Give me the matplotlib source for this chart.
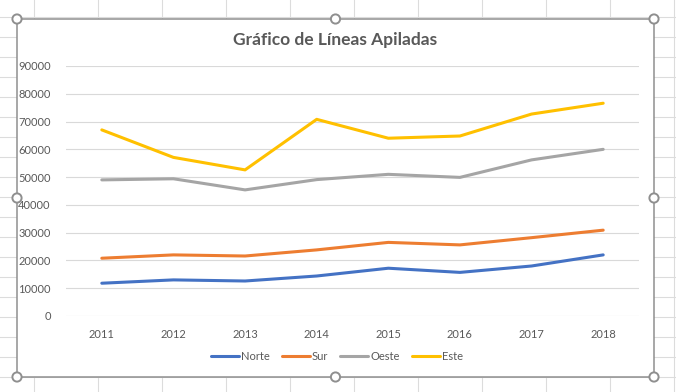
import matplotlib.pyplot as plt
import numpy as np
from matplotlib.patches import Rectangle, Circle

plt.rcParams['font.family'] = ['Lato', 'DejaVu Sans']

years = ['2011', '2012', '2013', '2014', '2015', '2016', '2017', '2018']
norte = [11800, 13000, 12600, 14400, 17200, 15700, 18000, 22000]
sur = [9000, 9000, 9000, 9400, 9300, 9900, 10200, 8900]
oeste = [28200, 27400, 23800, 25300, 24500, 24300, 28000, 29100]
este = [18000, 7700, 7200, 21700, 13000, 14900, 16500, 16600]
names = ['Norte', 'Sur', 'Oeste', 'Este']
colors = ['#4472C4', '#ED7D31', '#A5A5A5', '#FFC000']
yticks = list(range(0, 90001, 10000))

W, H = 676, 392
fig = plt.figure(figsize=(W / 100, H / 100), dpi=100)

# fondo: cuadricula de la hoja de calculo + area del grafico
bg = fig.add_axes([0, 0, 1, 1], zorder=0)
bg.set_xlim(0, W)
bg.set_ylim(H, 0)
bg.axis('off')
for x in np.arange(34.3, W + 1, 64):
    bg.plot([x, x], [0, H], color='#dcdcdc', lw=0.8)
for y in np.arange(17.3, H + 1, 20):
    bg.plot([0, W], [y, y], color='#dcdcdc', lw=0.8)
bg.add_patch(Rectangle((17, 19), 637, 358, facecolor='white',
                       edgecolor='#8f8f8f', lw=1.1, zorder=3))
for cx, cy in [(17, 19), (335.5, 19), (654, 19), (17, 198), (654, 198),
               (17, 377), (335.5, 377), (654, 377)]:
    bg.add_patch(Circle((cx, cy), 4.6, facecolor='white', edgecolor='#8f8f8f',
                        lw=1.4, zorder=4))

ax = fig.add_axes([66 / W, 1 - 316 / H, (639 - 66) / W, (316 - 66) / H], zorder=1)
ax.patch.set_alpha(0)

x = np.arange(len(years))
stacked = np.cumsum(np.array([norte, sur, oeste, este]), axis=0)
for vals, name, col in zip(stacked, names, colors):
    ax.plot(x, vals, color=col, lw=2.2, label=name, solid_capstyle='round')

ax.set_xlim(-0.5, len(years) - 0.5)
ax.set_ylim(0, 90000)
ax.set_xticks(x)
ax.set_xticklabels(years)
ax.set_yticks(yticks)
ax.set_yticklabels([str(v) for v in yticks])
ax.yaxis.grid(True, color='#d9d9d9', lw=0.8)
ax.set_axisbelow(True)
for s in ax.spines.values():
    s.set_visible(False)
ax.tick_params(length=0, labelsize=8, labelcolor='#595959')
ax.tick_params(axis='y', pad=11)
ax.tick_params(axis='x', pad=9)

fig.text(335 / W, 1 - 40 / H, 'Gráfico de Líneas Apiladas', ha='center',
         va='center', fontsize=12.5, fontweight='bold', color='#595959')

h, l = ax.get_legend_handles_labels()
fig.legend(h, l, loc='center', bbox_to_anchor=(337 / W, 1 - 356 / H), ncol=4,
           frameon=False, fontsize=8, labelcolor='#595959', handlelength=2.5,
           handletextpad=0.2, columnspacing=1.1)

fig.savefig('out.png', dpi=100)
